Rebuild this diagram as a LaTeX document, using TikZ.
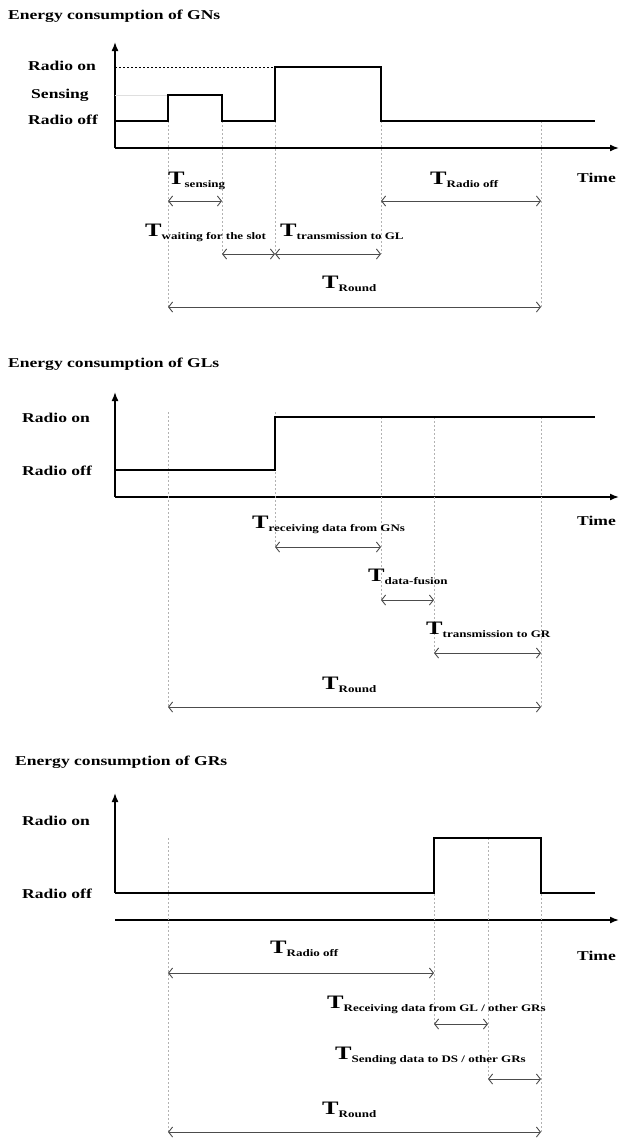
\documentclass[tikz,border=0pt]{standalone}
\usepackage{fontspec}
\setmainfont{Liberation Serif}
\usetikzlibrary{arrows.meta}
\newcommand\lbl[1]{\scalebox{1.3}[1]{\fontsize{13.5}{14}\selectfont\bfseries #1}}
\newcommand\tlab[1]{\scalebox{1.3}[1]{\fontsize{19}{19}\selectfont\bfseries T\raisebox{-3pt}{\fontsize{10}{10}\selectfont #1}}}
\tikzset{
  sig/.style={line width=2.8pt, line join=miter, line cap=butt},
  axis/.style={line width=1.6pt, -{Latex[length=9pt,width=7pt]}},
  guide/.style={gray!60, line width=0.5pt, dash pattern=on 2pt off 2pt},
  dim/.style={black!70, line width=0.9pt, {Straight Barb[length=4pt,width=10pt]}-{Straight Barb[length=4pt,width=10pt]}},
  txt/.style={inner sep=0pt, anchor=base west}
}
\begin{document}
\begin{tikzpicture}[x=1pt,y=-1pt]
\useasboundingbox[fill=white] (0,0) rectangle (619,1138);

% ================= GNs =================
\node[txt] (t1) at (8,19) {\lbl{Energy consumption of GNs}};
\coordinate (o1) at (115,148);
\draw[axis] (o1) -- (115,42);
\draw[axis] (o1) -- (619,148);
\node[txt] (on1) at (28,70) {\lbl{Radio on}};
\node[txt] (se1) at (31,98) {\lbl{Sensing}};
\node[txt] (of1) at (28,124) {\lbl{Radio off}};
\node[txt] (ti1) at (577,182) {\lbl{Time}};
\draw[black, line width=0.5pt, dash pattern=on 2pt off 2pt] (115,67) -- (275,67);
\draw[gray!25, line width=0.5pt] (115,95) -- (168,95);
% guides
\draw[guide] (168,121) -- (168,307);
\draw[guide] (222,121) -- (222,254);
\draw[guide] (275,121) -- (275,254);
\draw[guide] (381,121) -- (381,254);
\draw[guide] (541,121) -- (541,307);
% signal
\draw[sig] (115,121) -- (168,121) -- (168,95) -- (222,95) -- (222,121) -- (275,121) -- (275,67) -- (381,67) -- (381,121) -- (595,121);
% dimensions
\node[txt] (ls1) at (168,184) {\tlab{sensing}};
\draw[dim] (168,201) -- (222,201);
\node[txt] (lr1) at (430,184) {\tlab{Radio off}};
\draw[dim] (381,201) -- (541,201);
\node[txt] (lw1) at (145,236) {\tlab{waiting for the slot}};
\draw[dim] (222,254) -- (275,254);
\node[txt] (lt1) at (280,236) {\tlab{transmission to GL}};
\draw[dim] (275,254) -- (381,254);
\node[txt] (lR1) at (322,288) {\tlab{Round}};
\draw[dim] (168,307) -- (541,307);

% ================= GLs =================
\node[txt] (t2) at (8,367) {\lbl{Energy consumption of GLs}};
\coordinate (o2) at (115,497);
\draw[axis] (o2) -- (115,392);
\draw[axis] (o2) -- (619,497);
\node[txt] (on2) at (22,422) {\lbl{Radio on}};
\node[txt] (of2) at (22,475) {\lbl{Radio off}};
\node[txt] (ti2) at (577,525) {\lbl{Time}};
\draw[guide] (168,412) -- (168,707);
\draw[guide] (275,412) -- (275,547);
\draw[guide] (381,417) -- (381,600);
\draw[guide] (434,417) -- (434,653);
\draw[guide] (541,417) -- (541,707);
\draw[sig] (115,470) -- (275,470) -- (275,417) -- (595,417);
\node[txt] (lg2) at (252,528) {\tlab{receiving data from GNs}};
\draw[dim] (275,547) -- (381,547);
\node[txt] (lf2) at (368,581) {\tlab{data-fusion}};
\draw[dim] (381,600) -- (434,600);
\node[txt] (lt2) at (426,634) {\tlab{transmission to GR}};
\draw[dim] (434,653) -- (541,653);
\node[txt] (lR2) at (322,689) {\tlab{Round}};
\draw[dim] (168,707) -- (541,707);

% ================= GRs =================
\node[txt] (t3) at (15,765) {\lbl{Energy consumption of GRs}};
\coordinate (o3) at (115,920);
\draw[axis] (115,893) -- (115,793);
\draw[axis] (o3) -- (619,920);
\node[txt] (on3) at (22,825) {\lbl{Radio on}};
\node[txt] (of3) at (22,898) {\lbl{Radio off}};
\node[txt] (ti3) at (577,960) {\lbl{Time}};
\draw[guide] (168,838) -- (168,1132);
\draw[guide] (434,838) -- (434,1024);
\draw[guide] (488,838) -- (488,1079);
\draw[guide] (541,838) -- (541,1132);
\draw[sig] (115,893) -- (434,893) -- (434,838) -- (541,838) -- (541,893) -- (595,893);
\node[txt] (lr3) at (270,953) {\tlab{Radio off}};
\draw[dim] (168,973) -- (434,973);
\node[txt] (lg3) at (327,1008) {\tlab{Receiving data from GL / other GRs}};
\draw[dim] (434,1024) -- (488,1024);
\node[txt] (ls3) at (335,1059) {\tlab{Sending data to DS / other GRs}};
\draw[dim] (488,1079) -- (541,1079);
\node[txt] (lR3) at (322,1114) {\tlab{Round}};
\draw[dim] (168,1132) -- (541,1132);
\end{tikzpicture}
\end{document}
